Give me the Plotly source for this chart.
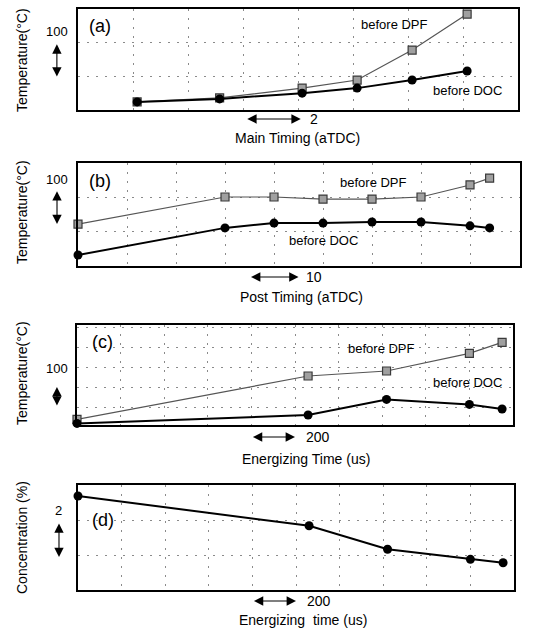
import plotly.graph_objects as go

# ---------------- data ----------------
main_timing = [-6, -3, 0, 2, 4, 6]
a_dpf = [124, 136, 165, 189, 278, 385]
a_doc = [124, 133, 150, 165, 189, 216]

post_timing = [10, 40, 50, 60, 70, 80, 90, 94]
b_dpf = [222, 301, 301, 295, 295, 301, 336, 356]
b_doc = [132, 211, 225, 225, 228, 228, 217, 211]

energizing = [200, 1260, 1620, 2000, 2150]
c_dpf = [138, 355, 380, 468, 523]
c_doc = [118, 160, 238, 213, 190]

conc_time = [200, 1260, 1620, 2000, 2150]
d_conc = [13.37, 11.67, 10.33, 9.75, 9.56]

W, H = 554, 634
FONT = "Arial, Liberation Sans, sans-serif"

def px(x):
    return x / W

def py(y):
    return 1 - y / H

fig = go.Figure()

dpf_style = dict(mode="lines+markers", cliponaxis=False,
                 line=dict(color="#555555", width=1.2),
                 marker=dict(symbol="square", size=8, color="#a0a0a0",
                             line=dict(color="#3a3a3a", width=1.2)))
doc_style = dict(mode="lines+markers", cliponaxis=False,
                 line=dict(color="#000000", width=2),
                 marker=dict(symbol="circle", size=9, color="#000000"))

panels = [
    ("x", "y", main_timing, a_dpf, a_doc),
    ("x2", "y2", post_timing, b_dpf, b_doc),
    ("x3", "y3", energizing, c_dpf, c_doc),
]
for xa, ya, xs, dpf, doc in panels:
    fig.add_trace(go.Scatter(x=xs, y=dpf, xaxis=xa, yaxis=ya, showlegend=False, **dpf_style))
    fig.add_trace(go.Scatter(x=xs, y=doc, xaxis=xa, yaxis=ya, showlegend=False, **doc_style))
fig.add_trace(go.Scatter(x=conc_time, y=d_conc, xaxis="x4", yaxis="y4", showlegend=False, **doc_style))

grid = dict(showgrid=True, gridcolor="#8a8a8a", gridwidth=1, griddash="2px,7px",
            showline=True, linecolor="black", linewidth=2, mirror=True,
            zeroline=False, showticklabels=False, ticks="")

def ydom(top, bottom):
    return [py(bottom), py(top)]

layout = dict(
    width=W, height=H, margin=dict(l=0, r=0, t=0, b=0),
    paper_bgcolor="white", plot_bgcolor="white",
    font=dict(family=FONT, color="black"),
    xaxis=dict(domain=[px(78), px(518)], range=[-8.15, 7.85], dtick=2, tick0=-0.15, anchor="y", **grid),
    yaxis=dict(domain=ydom(9, 110), range=[100, 400], dtick=100, tick0=0, anchor="x", **grid),
    xaxis2=dict(domain=[px(78), px(520)], range=[10, 100.2], dtick=10, tick0=0, anchor="y2", **grid),
    yaxis2=dict(domain=ydom(163, 266), range=[100, 400], dtick=100, tick0=0, anchor="x2", **grid),
    xaxis3=dict(domain=[px(77), px(513)], range=[200, 2200], dtick=200, tick0=0, anchor="y3", **grid),
    yaxis3=dict(domain=ydom(325, 425), range=[110, 610], dtick=100, tick0=0, anchor="x3", **grid),
    xaxis4=dict(domain=[px(78), px(514)], range=[200, 2200], dtick=200, tick0=0, anchor="y4", **grid),
    yaxis4=dict(domain=ydom(485, 590), range=[8, 14], dtick=2, tick0=0, anchor="x4", **grid),
)
fig.update_layout(**layout)

ann = []

def text(x, y, s, size=13, **kw):
    d = dict(xref="paper", yref="paper", x=px(x), y=py(y), text=s, showarrow=False,
             font=dict(size=size, family=FONT, color="black"),
             xanchor="center", yanchor="middle")
    d.update(kw)
    ann.append(d)

# panel labels
text(100, 26, "(a)", size=18)
text(100, 181, "(b)", size=18)
text(102, 342, "(c)", size=18)
text(103, 520, "(d)", size=18)

# series labels
text(394, 25, "before DPF")
text(467, 90, "before DOC")
text(373, 182, "before DPF")
text(323, 240, "before DOC")
text(381, 348, "before DPF")
text(467, 382, "before DOC")

# axis titles
text(297, 138, "Main Timing (aTDC)", size=14)
text(301, 297, "Post Timing (aTDC)", size=14)
text(306, 459, "Energizing Time (us)", size=14)
text(303, 620, "Energizing&#160;&#160;time (us)", size=14)
text(22, 60, "Temperature(°C)", size=14, textangle=-90)
text(22, 212, "Temperature(°C)", size=14, textangle=-90)
text(22, 373, "Temperature(°C)", size=14, textangle=-90)
text(22, 538, "Concentration (%)", size=14, textangle=-90)

arrow = dict(showarrow=True, text="", arrowhead=2, arrowside="end+start",
             arrowsize=1.7, arrowwidth=1.1, arrowcolor="black", standoff=0, startstandoff=0)

# horizontal scale bars (data units of each x axis)
hbars = [
    ("x", "y", -2.05, -0.05, -0.089, 0.2, "2"),
    ("x2", "y2", 45, 55, -0.107, 56.2, "10"),
    ("x3", "y3", 1000, 1200, -0.12, 1240, "200"),
    ("x4", "y4", 1000, 1200, -0.105, 1240, "200"),
]
for xa, ya, x0, x1, yd, xt, lab in hbars:
    a = dict(arrow)
    a.update(xref=xa, yref=ya + " domain", x=x1, y=yd, axref=xa, ax=x0, ayref=ya + " domain", ay=yd)
    ann.append(a)
    ann.append(dict(xref=xa, yref=ya + " domain", x=xt, y=yd, text=lab, showarrow=False,
                    xanchor="left", yanchor="middle", font=dict(size=14, family=FONT, color="black")))

# vertical scale bars (data units of each y axis)
vbars = [
    ("x", "y", -0.048, 195, 295, 306, "100"),
    ("x2", "y2", -0.0475, 218, 318, 324, "100"),
    ("x3", "y3", -0.046, 200, 300, 345, "100"),
    ("x4", "y4", -0.0436, 9.8, 11.8, 12.0, "2"),
]
for xa, ya, xd, y0, y1, yt, lab in vbars:
    a = dict(arrow)
    a.update(xref=xa + " domain", yref=ya, x=xd, y=y1, axref=xa + " domain", ax=xd, ayref=ya, ay=y0)
    ann.append(a)
    ann.append(dict(xref=xa + " domain", yref=ya, x=xd, y=yt, text=lab, showarrow=False,
                    xanchor="center", yanchor="bottom", font=dict(size=13, family=FONT, color="black")))

fig.update_layout(annotations=ann)
fig.write_html("out.html")
